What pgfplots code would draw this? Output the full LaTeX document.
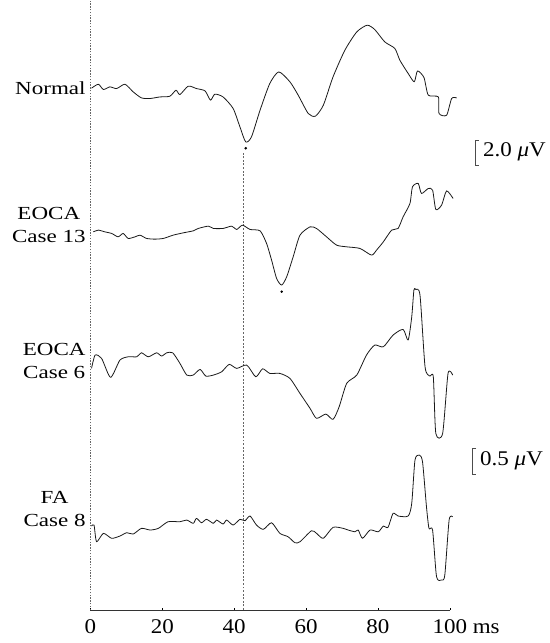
\documentclass[border=0pt]{standalone}
\usepackage{pgfplots}
\pgfplotsset{compat=1.18}
\usepackage{pgfplotstable}
\usepackage{fontspec}
\setmainfont{Liberation Serif}
\newfontfamily\labelfont{Liberation Serif}[FakeStretch=1.25]
\newfontfamily\tickfont{Liberation Serif}[FakeStretch=1.1]

% Evoked responses: t in ms, v in microvolts
\pgfplotstableread{
t v
0.3 0.00
2.2 0.33
3.6 -0.11
5.4 0.11
7.3 -0.03
9.6 0.33
11.9 -0.31
14.2 -0.81
16.6 -0.86
19.3 -0.73
22.1 -0.67
23.8 -0.17
24.9 -0.53
27.2 0.17
29.5 -0.03
31.9 -0.23
33.4 -1.00
34.6 -0.50
36.9 -0.73
39.7 -1.69
41.6 -3.23
43.2 -4.48
44.8 -4.06
47.2 -1.83
49.9 0.39
52.4 1.36
55.5 0.53
57.8 -0.58
60.6 -2.11
62.6 -2.33
64.8 -1.42
67.5 0.94
70.8 3.17
74.1 4.69
77.0 5.25
79.1 4.89
81.9 3.86
84.7 3.31
86.1 2.33
88.4 1.23
90.1 0.53
91.0 1.44
92.8 0.89
94.0 -0.58
96.8 -0.73
97.0 -2.11
99.1 -2.25
100.5 -0.86
101.9 -0.81
}\normal

\pgfplotstableread{
t v
0.8 0.006
2.2 0.042
4.0 0.006
5.9 -0.027
7.7 -0.098
9.1 -0.027
10.5 -0.131
12.4 -0.098
13.8 -0.063
15.6 -0.131
17.9 -0.146
20.3 -0.131
23.0 -0.063
25.8 -0.015
28.6 0.027
30.0 0.077
32.8 0.125
34.2 0.077
36.9 0.077
39.3 0.125
40.7 0.056
42.3 0.146
44.4 0.056
47.2 0.027
49.0 -0.235
50.4 -0.583
51.8 -0.965
53.2 -1.104
54.6 -0.931
56.4 -0.515
58.3 -0.063
61.1 0.110
62.9 0.077
65.7 -0.098
68.5 -0.271
71.3 -0.306
75.0 -0.340
78.2 -0.479
79.6 -0.375
81.5 -0.202
83.8 0.042
85.6 0.077
87.0 0.319
88.9 0.598
89.6 0.944
91.2 1.015
92.1 0.806
94.0 0.910
95.2 0.875
96.1 0.473
97.7 0.563
99.1 0.860
100.9 0.702
}\eocaA

\pgfplotstableread{
t v
0.3 -0.069
1.3 0.208
3.1 0.140
5.6 -0.256
8.2 0.104
10.5 0.173
12.9 0.173
14.2 0.256
16.1 0.173
18.4 0.256
19.8 0.188
21.2 0.256
22.9 0.256
24.9 0.035
26.8 -0.208
28.6 -0.208
30.5 -0.090
32.1 -0.229
34.2 -0.208
36.5 -0.140
38.6 0.015
40.7 -0.069
43.5 0.000
46.0 -0.244
47.9 -0.077
49.9 -0.173
52.7 -0.173
55.5 -0.277
58.3 -0.590
61.1 -0.902
62.9 -1.110
65.5 -1.021
67.5 -1.131
69.2 -0.869
71.3 -0.381
74.1 -0.208
76.8 0.208
79.1 0.417
81.5 0.381
84.2 0.625
87.0 0.744
88.4 0.521
89.4 1.006
90.0 1.563
90.5 1.577
91.7 1.458
93.1 -0.035
94.4 -0.229
95.4 -0.244
96.1 -1.423
98.0 -1.423
99.5 -0.173
100.8 -0.208
}\eocaB

\pgfplotstableread{
t v
0.3 -0.021
1.0 0.000
1.7 -0.348
3.6 -0.173
5.9 -0.277
8.2 -0.229
10.1 -0.160
11.9 -0.188
14.2 -0.069
16.6 -0.104
18.9 -0.069
21.6 0.069
24.9 0.069
26.8 0.104
28.6 0.035
29.5 0.140
30.9 0.048
32.3 0.119
34.2 0.035
35.1 0.104
36.9 0.021
37.9 0.104
39.7 0.000
41.6 0.119
43.0 0.090
44.4 0.188
46.2 0.000
48.1 -0.090
50.4 0.048
52.7 -0.173
55.0 -0.244
56.9 -0.369
58.3 -0.348
61.5 -0.119
62.9 -0.173
64.8 -0.277
67.5 -0.048
70.3 -0.069
71.7 -0.104
73.6 -0.140
74.5 -0.104
75.7 -0.277
77.8 -0.104
80.1 -0.140
81.5 -0.021
82.8 -0.048
84.2 0.244
85.6 0.188
88.4 0.188
89.4 0.452
90.3 1.354
91.5 1.458
92.4 1.319
93.5 0.381
94.2 -0.069
95.2 -0.104
96.3 -1.077
97.7 -1.146
98.6 -1.042
99.8 0.104
100.8 0.173
}\faA

% marked troughs (t, v)
\pgfplotstableread{
t v
43.2 -5.0
}\normaldot
\pgfplotstableread{
t v
53.2 -1.24
}\eocadot

\begin{document}
\begin{tikzpicture}
\begin{axis}[
  scale only axis,
  width=550bp, height=610bp,
  xmin=-25.17, xmax=127.82,
  ymin=33, ymax=643,
  clip=false,
  axis line style={draw=none},
  ytick=\empty,
  xtick={0,20,40,60,80,100},
  xticklabels={0,20,40,60,80,{100\rlap{ ms}}},
  xtick pos=bottom,
  tick align=inside,
  major tick length=2.5pt,
  tick style={black, line width=0.5pt},
  xticklabel style={font=\tickfont\fontsize{21}{22}\selectfont, yshift=-6.5pt},
  trace/.style={black!90, line width=0.8pt, line join=round, smooth, tension=0.4},
]
% stimulus onset and reference latency
\draw[black!60, line width=0.45pt, dash pattern=on 1.4pt off 1.4pt] (axis cs:0,33) -- (axis cs:0,643);
\draw[black!60, line width=0.45pt, dash pattern=on 2pt off 1.6pt] (axis cs:42.5,33) -- (axis cs:42.5,490);
% time axis
\draw[black!80, line width=0.6pt] (axis cs:0,33) -- (axis cs:100,33);

\addplot[trace] table[x=t, y expr={555+12*\thisrow{v}}] {\normal};
\addplot[trace] table[x=t, y expr={411+48*\thisrow{v}}] {\eocaA};
\addplot[trace] table[x=t, y expr={278+48*\thisrow{v}}] {\eocaB};
\addplot[trace] table[x=t, y expr={118+48*\thisrow{v}}] {\faA};

\addplot[only marks, mark=*, mark size=1.1pt, black] table[x=t, y expr={555+12*\thisrow{v}}] {\normaldot};
\addplot[only marks, mark=*, mark size=1.0pt, black] table[x=t, y expr={411+48*\thisrow{v}}] {\eocadot};

% row labels
\begin{scope}[every node/.style={font=\labelfont\fontsize{18.5}{23}\selectfont, anchor=east, align=center, inner sep=0pt}]
\node at (axis cs:-1.3,555) {Normal};
\node at (axis cs:-1.3,418) {EOCA\\Case 13};
\node at (axis cs:-1.3,282) {EOCA\\Case 6};
\node at (axis cs:-1.3,134) {FA\\Case 8};
\end{scope}

% calibration bars: 2.0 uV (Normal), 0.5 uV (patients)
\draw[black!70, line width=0.5pt] (axis cs:108.1,503) -- (axis cs:107.0,503) -- (axis cs:107.0,478) -- (axis cs:108.1,478);
\node[anchor=west, inner sep=0pt, font=\tickfont\fontsize{21}{22}\selectfont] at (axis cs:109.2,491) {2.0 \textit{μ}V};
\draw[black!70, line width=0.5pt] (axis cs:107.3,195) -- (axis cs:106.2,195) -- (axis cs:106.2,169) -- (axis cs:107.3,169);
\node[anchor=west, inner sep=0pt, font=\tickfont\fontsize{21}{22}\selectfont] at (axis cs:108.4,182) {0.5 \textit{μ}V};

\path (axis cs:-25.17,0) rectangle (axis cs:127.82,643);
\end{axis}
\end{tikzpicture}
\end{document}
